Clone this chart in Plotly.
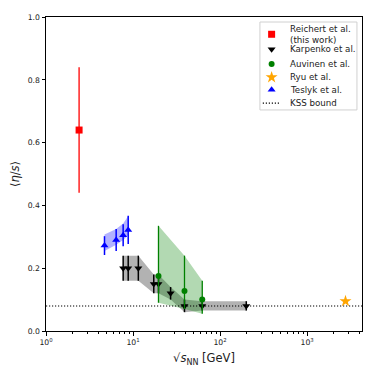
import math
import plotly.graph_objects as go

# Reichert et al. (this work)
reichert_x = [2.4]
reichert_y = [0.64]
reichert_err_hi = [0.20]
reichert_err_lo = [0.20]

# Karpenko et al.
karp_x = [7.7, 8.8, 11.5, 17.3, 19.6, 27, 39, 62.4, 200]
karp_y = [0.20, 0.20, 0.20, 0.15, 0.15, 0.12, 0.08, 0.08, 0.08]
karp_err = [0.04, 0.04, 0.04, 0.03, 0.03, 0.02, 0.02, 0.015, 0.015]

# Auvinen et al.
auv_x = [19.6, 39, 62.4]
auv_y = [0.175, 0.127, 0.10]
auv_hi = [0.335, 0.24, 0.16]
auv_lo = [0.09, 0.07, 0.055]

# Ryu et al.
ryu_x = [2760]
ryu_y = [0.095]

# Teslyk et al.
tes_x = [4.7, 6.4, 7.7, 8.8]
tes_y = [0.272, 0.29, 0.305, 0.322]
tes_err = [0.03, 0.035, 0.035, 0.045]
tes_band_lo = [0.255, 0.275, 0.29, 0.305]
tes_band_hi = [0.307, 0.325, 0.342, 0.366]

kss = 1 / (4 * math.pi)
x_lim = [1, 4270]
kss_dash = "1.2px,1.8px"

fig = go.Figure()

def band(xs, lo, hi, color):
    fig.add_trace(go.Scatter(
        x=list(xs) + list(xs)[::-1], y=list(hi) + list(lo)[::-1],
        fill="toself", fillcolor=color, mode="lines", line=dict(width=0),
        hoverinfo="skip", showlegend=False))

# uncertainty bands
band(karp_x, [y - e for y, e in zip(karp_y, karp_err)],
     [y + e for y, e in zip(karp_y, karp_err)], "rgba(0,0,0,0.3)")
band(auv_x, auv_lo, auv_hi, "rgba(0,128,0,0.3)")
band(tes_x, tes_band_lo, tes_band_hi, "rgba(0,0,255,0.3)")

fig.add_trace(go.Scatter(
    x=x_lim, y=[kss, kss], mode="lines", showlegend=False,
    line=dict(color="black", width=1.2, dash=kss_dash)))

fig.add_trace(go.Scatter(
    x=reichert_x, y=reichert_y, mode="markers", showlegend=False,
    marker=dict(symbol="square", color="red", size=7),
    error_y=dict(type="data", symmetric=False, array=reichert_err_hi,
                 arrayminus=reichert_err_lo, color="red", thickness=1.3, width=0)))

fig.add_trace(go.Scatter(
    x=karp_x, y=karp_y, mode="markers", showlegend=False,
    marker=dict(symbol="triangle-down", color="black", size=7),
    error_y=dict(type="data", array=karp_err, color="black", thickness=1.5, width=0)))

fig.add_trace(go.Scatter(
    x=auv_x, y=auv_y, mode="markers", showlegend=False,
    marker=dict(symbol="circle", color="green", size=6),
    error_y=dict(type="data", symmetric=False,
                 array=[h - y for h, y in zip(auv_hi, auv_y)],
                 arrayminus=[y - l for y, l in zip(auv_y, auv_lo)],
                 color="green", thickness=1.3, width=0)))

fig.add_trace(go.Scatter(
    x=ryu_x, y=ryu_y, mode="markers", showlegend=False,
    marker=dict(symbol="star", color="orange", size=9)))

fig.add_trace(go.Scatter(
    x=tes_x, y=tes_y, mode="markers", showlegend=False,
    marker=dict(symbol="triangle-up", color="blue", size=7),
    error_y=dict(type="data", array=tes_err, color="blue", thickness=1.5, width=0)))

# compact legend drawn on an overlay axis (paper-like 0..1 coordinates)
legend_names = ["Reichert et al.<br>(this work)", "Karpenko et al.", "Auvinen et al.",
                "Ryu et al.", "Teslyk et al.", "KSS bound"]
legend_symbols = ["square", "triangle-down", "circle", "star", "triangle-up", None]
legend_colors = ["red", "black", "green", "orange", "blue", "black"]
legend_sizes = [7, 7, 6, 9, 7, 0]
row_y = [0.945, 0.897, 0.850, 0.808, 0.768, 0.726]
key_x, text_x = 0.714, 0.767

fig.add_shape(type="rect", xref="paper", yref="paper", x0=0.677, x1=0.984, y0=0.704, y1=0.984,
              line=dict(color="#d0d0d0", width=1), fillcolor="white", layer="below")
for name, sym, col, sz, yy in zip(legend_names, legend_symbols, legend_colors, legend_sizes, row_y):
    if sym is None:
        fig.add_trace(go.Scatter(x=[key_x - 0.028, key_x + 0.024], y=[yy, yy], mode="lines",
                                 xaxis="x2", yaxis="y2", showlegend=False, hoverinfo="skip",
                                 line=dict(color=col, width=1.2, dash=kss_dash)))
    else:
        fig.add_trace(go.Scatter(x=[key_x], y=[yy], mode="markers", xaxis="x2", yaxis="y2",
                                 showlegend=False, hoverinfo="skip",
                                 marker=dict(symbol=sym, color=col, size=sz)))
    fig.add_annotation(x=text_x, y=yy, xref="paper", yref="paper", text=name, showarrow=False,
                       xanchor="left", yanchor="middle", align="left",
                       font=dict(size=8.7, color="#222"))

minor_vals = [m * 10 ** d for d in range(4) for m in range(2, 10)]

fig.update_layout(
    width=378, height=370,
    margin=dict(l=38, r=24, t=9, b=47),
    paper_bgcolor="white", plot_bgcolor="white",
    font=dict(family="DejaVu Sans", size=7.7, color="#222"),
    showlegend=False,
    xaxis=dict(type="log", range=[0, math.log10(x_lim[1])], automargin=False,
               tickvals=[1, 10, 100, 1000],
               ticktext=["10<sup>0</sup>", "10<sup>1</sup>", "10<sup>2</sup>", "10<sup>3</sup>"],
               ticks="outside", ticklen=3.5, tickcolor="black",
               minor=dict(tickvals=minor_vals, ticks="outside", ticklen=2, tickcolor="black"),
               showline=True, linecolor="black", linewidth=1, mirror=True,
               showgrid=False, zeroline=False,
               title=dict(text="√<i>s</i><sub>NN</sub> [GeV]", font=dict(size=11.5), standoff=8)),
    yaxis=dict(range=[0, 1], tickvals=[0, 0.2, 0.4, 0.6, 0.8, 1.0], tickformat=".1f",
               automargin=False,
               ticks="outside", ticklen=3.5, tickcolor="black",
               showline=True, linecolor="black", linewidth=1, mirror=True,
               showgrid=False, zeroline=False,
               title=dict(text="⟨<i>η</i>/<i>s</i>⟩", font=dict(size=11.5), standoff=10)),
    xaxis2=dict(overlaying="x", range=[0, 1], visible=False, fixedrange=True),
    yaxis2=dict(overlaying="y", range=[0, 1], visible=False, fixedrange=True),
)

fig.write_html("out.html")
